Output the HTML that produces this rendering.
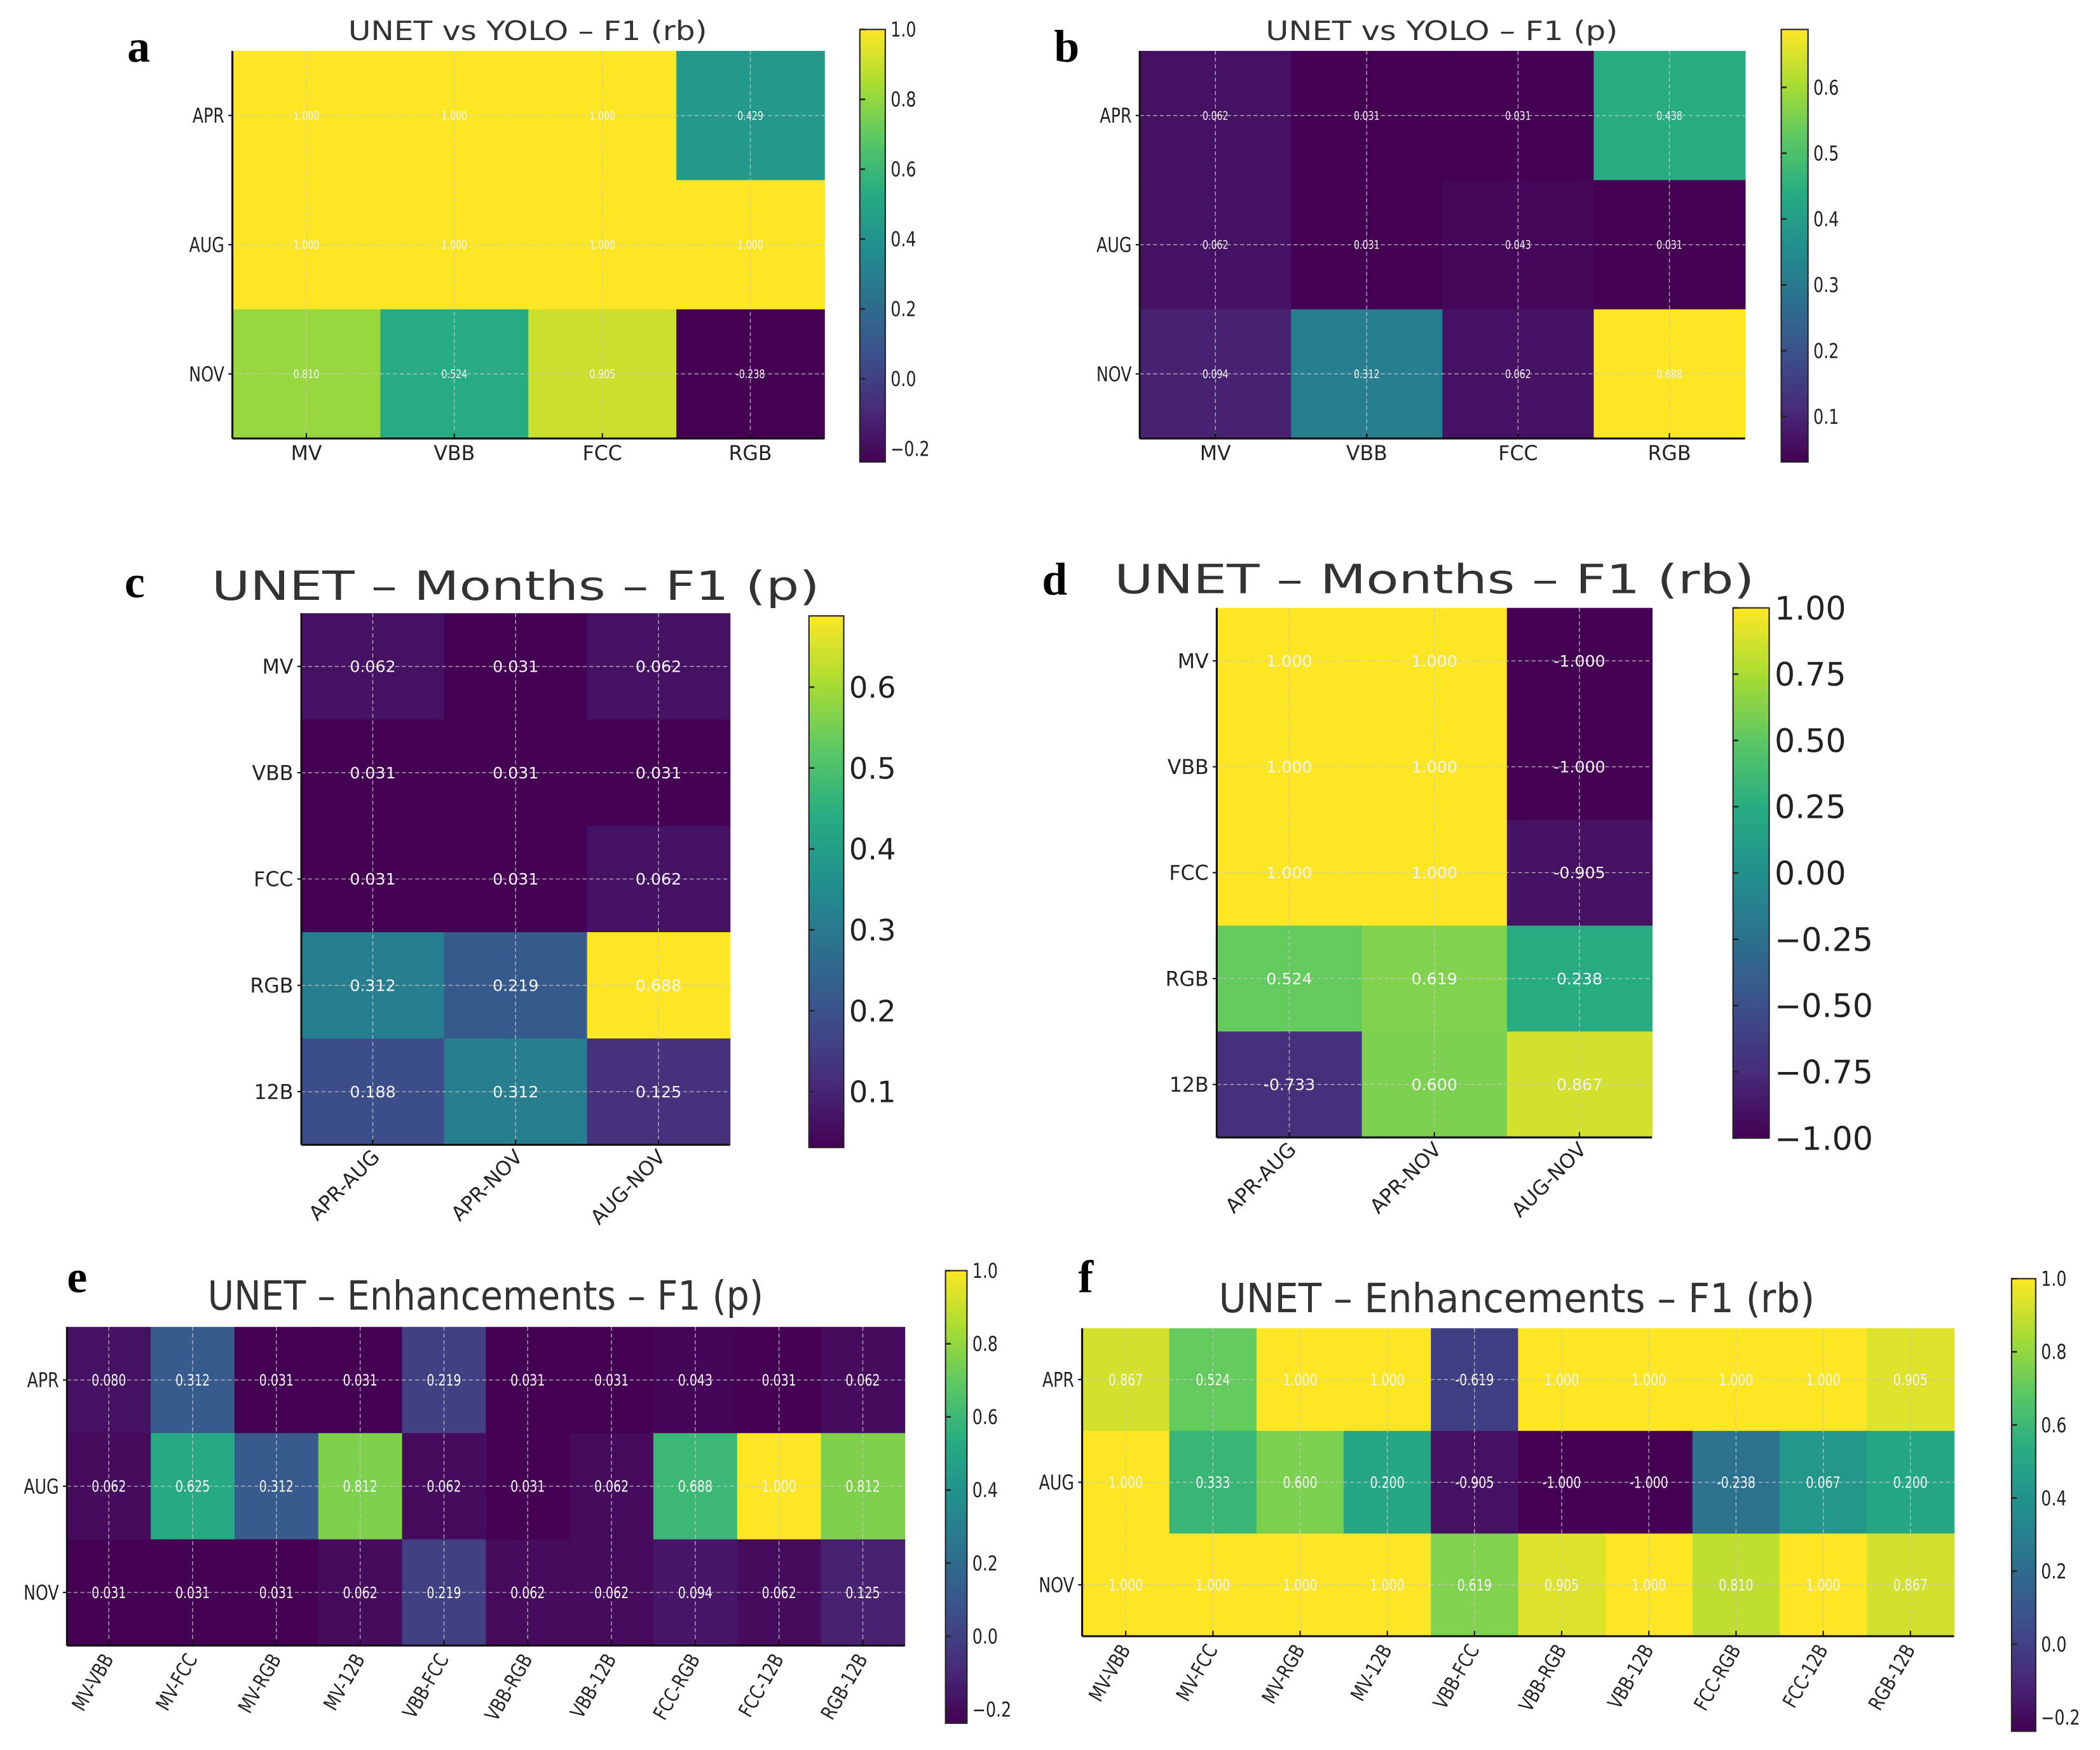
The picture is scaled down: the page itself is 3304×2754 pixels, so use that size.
<!DOCTYPE html>
<html><head><meta charset="utf-8">
<style>
html,body{margin:0;padding:0;background:#fff;overflow:hidden;width:3304px;height:2754px;}
svg{display:block;}
text{font-family:"DejaVu Sans","Liberation Sans",sans-serif;}
</style></head>
<body>
<svg id="fig" width="3304" height="2754" viewBox="0 0 1568 1307" xmlns="http://www.w3.org/2000/svg"></svg>
<script>
// ---------- data ----------
const monthRows = ["APR","AUG","NOV"];
const bandCols = ["MV","VBB","FCC","RGB"];
const aValues = [[1.000,1.000,1.000,0.429],[1.000,1.000,1.000,1.000],[0.810,0.524,0.905,-0.238]];
const bValues = [[0.062,0.031,0.031,0.438],[0.062,0.031,0.043,0.031],[0.094,0.312,0.062,0.688]];
const bandRows = ["MV","VBB","FCC","RGB","12B"];
const pairCols = ["APR-AUG","APR-NOV","AUG-NOV"];
const cValues = [[0.062,0.031,0.062],[0.031,0.031,0.031],[0.031,0.031,0.062],[0.312,0.219,0.688],[0.188,0.312,0.125]];
const dValues = [[1.000,1.000,-1.000],[1.000,1.000,-1.000],[1.000,1.000,-0.905],[0.524,0.619,0.238],[-0.733,0.600,0.867]];
const enhCols = ["MV-VBB","MV-FCC","MV-RGB","MV-12B","VBB-FCC","VBB-RGB","VBB-12B","FCC-RGB","FCC-12B","RGB-12B"];
const eValues = [[0.080,0.312,0.031,0.031,0.219,0.031,0.031,0.043,0.031,0.062],
                 [0.062,0.625,0.312,0.812,0.062,0.031,0.062,0.688,1.000,0.812],
                 [0.031,0.031,0.031,0.062,0.219,0.062,0.062,0.094,0.062,0.125]];
const fValues = [[0.867,0.524,1.000,1.000,-0.619,1.000,1.000,1.000,1.000,0.905],
                 [1.000,0.333,0.600,0.200,-0.905,-1.000,-1.000,-0.238,0.067,0.200],
                 [1.000,1.000,1.000,1.000,0.619,0.905,1.000,0.810,1.000,0.867]];
const ticksA = [-0.2,0.0,0.2,0.4,0.6,0.8,1.0];
const ticksB = [0.1,0.2,0.3,0.4,0.5,0.6];
const ticksD = [-1.0,-0.75,-0.5,-0.25,0.0,0.25,0.5,0.75,1.0];

// ---------- helpers ----------
const NS="http://www.w3.org/2000/svg";
const svg=document.getElementById('fig');
const VIR=["#440154","#472c7a","#3b518b","#2c718e","#21908d","#27ad81","#5cc863","#aadc32","#fde725"];
function hex(h){return [parseInt(h.substr(1,2),16),parseInt(h.substr(3,2),16),parseInt(h.substr(5,2),16)];}
function viridis(t){t=Math.max(0,Math.min(1,t));const p=t*(VIR.length-1);const i=Math.min(VIR.length-2,Math.floor(p));const f=p-i;
 const a=hex(VIR[i]),b=hex(VIR[i+1]);return `rgb(${a.map((v,k)=>Math.round(v+(b[k]-v)*f)).join(',')})`;}
function mk(tag,attrs,parent){const e=document.createElementNS(NS,tag);for(const k in attrs)e.setAttribute(k,attrs[k]);(parent||svg).appendChild(e);return e;}
function txt(s,attrs,parent){const e=mk('text',attrs,parent);e.textContent=s;return e;}
let gid=0;
function fmtTick(v,dec){const s=Math.abs(v).toFixed(dec);return (v<0?'\u2212':'')+s;}

function panel(c){
 const g=mk('g',{});
 
 
 const nr=c.rows.length, nc=c.cols.length;
 const cw=(c.x1-c.x0)/nc, ch=(c.y1-c.y0)/nr;
 const xs=j=>c.x0+j*cw, ys=i=>c.y0+i*ch;
 const norm=v=>(v-c.vmin)/(c.vmax-c.vmin);
 for(let i=0;i<nr;i++)for(let j=0;j<nc;j++){
  const r=mk('rect',{x:xs(j),y:ys(i),width:cw+0.4,height:ch+0.4,fill:viridis(norm(c.vals[i][j]))},g);
  
  
 }
 for(let j=0;j<nc;j++){const l=mk('line',{x1:xs(j)+cw/2,x2:xs(j)+cw/2,y1:c.y0,y2:c.y1,stroke:'#c8c8c8','stroke-width':0.7,'stroke-dasharray':'3,2',opacity:0.8},g);
  }
 for(let i=0;i<nr;i++){const l=mk('line',{x1:c.x0,x2:c.x1,y1:ys(i)+ch/2,y2:ys(i)+ch/2,stroke:'#c8c8c8','stroke-width':0.7,'stroke-dasharray':'3,2',opacity:0.8},g);
  }
 for(let i=0;i<nr;i++)for(let j=0;j<nc;j++){
  const v=c.vals[i][j];
  const t=txt(v.toFixed(3),{x:xs(j)+cw/2,y:ys(i)+ch/2+c.vfs*0.35,'font-size':c.vfs,fill:'#f4f4f4','text-anchor':'middle'},g);
  if(c.cond)t.setAttribute('transform',`translate(${xs(j)+cw/2},0) scale(0.75,1) translate(${-(xs(j)+cw/2)},0)`);
  
 }
 mk('line',{x1:c.x0,x2:c.x0,y1:c.y0,y2:c.y1,stroke:'#111','stroke-width':1.5},g);
 mk('line',{x1:c.x0,x2:c.x1,y1:c.y1,y2:c.y1,stroke:'#111','stroke-width':1.5},g);
 for(let i=0;i<nr;i++){
  mk('line',{x1:c.x0-3,x2:c.x0,y1:ys(i)+ch/2,y2:ys(i)+ch/2,stroke:'#111','stroke-width':1},g);
  const t=txt(c.rows[i],{x:c.x0-6,y:ys(i)+ch/2+c.lfs*0.36,'font-size':c.lfs,fill:'#222','text-anchor':'end'},g);
  if(c.cond)t.setAttribute('transform',`translate(${c.x0-6},0) scale(0.8,1) translate(${-(c.x0-6)},0)`);
  
 }
 for(let j=0;j<nc;j++){
  const cx=xs(j)+cw/2;
  mk('line',{x1:cx,x2:cx,y1:c.y1-4,y2:c.y1,stroke:'#111','stroke-width':1},g);
  let t;
  if(c.rot){
   t=txt(c.cols[j],{x:0,y:0,'font-size':c.lfs,fill:'#222','text-anchor':'end',
     transform:`translate(${cx+c.rotdx},${c.y1+c.rotdy}) rotate(${-c.rot})`+(c.cond?' scale(0.8,1)':'')},g);
  } else {
   t=txt(c.cols[j],{x:cx,y:c.y1+16,'font-size':c.lfs,fill:'#222','text-anchor':'middle'},g);
  }
  
 }
 const tt=txt(c.title,{x:(c.tx0+c.tx1)/2,y:c.ty,'font-size':c.tfs,fill:'#333','text-anchor':'middle',textLength:c.tx1-c.tx0,lengthAdjust:'spacingAndGlyphs'},g);
 
 const lt=txt(c.id,{x:c.lx,y:c.ly,'font-size':34,'font-weight':'bold',fill:'#000',style:'font-family:"Liberation Serif",serif'},g);
 
 const id='grad'+(gid++);
 const defs=mk('defs',{},g);
 const lg=mk('linearGradient',{id:id,x1:0,y1:1,x2:0,y2:0},defs);
 VIR.forEach((col,k)=>mk('stop',{offset:k/(VIR.length-1),'stop-color':col},lg));
 const cb=mk('rect',{x:c.cbx0,y:c.cby0,width:c.cbx1-c.cbx0,height:c.cby1-c.cby0,fill:`url(#${id})`,stroke:'#222','stroke-width':1},g);
 
 const bmin=(c.cbmin!==undefined)?c.cbmin:c.vmin, bmax=(c.cbmax!==undefined)?c.cbmax:c.vmax;
 const cy=v=>c.cby1-(v-bmin)/(bmax-bmin)*(c.cby1-c.cby0);
 c.ticks.forEach(v=>{
  const y=cy(v);
  mk('line',{x1:c.cbx0,x2:c.cbx0+4,y1:y,y2:y,stroke:'#222','stroke-width':1.2},g);
  const t=txt(fmtTick(v,c.tdec),{x:c.cbx1+4,y:y+c.cfs*0.36,'font-size':c.cfs,fill:'#222'},g);
  if(c.cond)t.setAttribute('transform',`translate(${c.cbx1+4},0) scale(0.8,1) translate(${-(c.cbx1+4)},0)`);
  
 });
}

panel({id:'a',rows:monthRows,cols:bandCols,vals:aValues,vmin:-0.238,vmax:1.0,x0:173.5,x1:615.5,y0:38,y1:327.5,
 vfs:9,lfs:15,cond:true,title:'UNET vs YOLO \u2013 F1 (rb)',tx0:260,tx1:528,ty:30,tfs:20,lx:95,ly:46,
 cbx0:642,cbx1:661,cby0:22,cby1:345,ticks:ticksA,tdec:1,cfs:15});
panel({id:'b',rows:monthRows,cols:bandCols,vals:bValues,vmin:0.031,vmax:0.688,x0:851,x1:1303,y0:38,y1:327.5,
 vfs:9,lfs:15,cond:true,title:'UNET vs YOLO \u2013 F1 (p)',tx0:945,tx1:1208,ty:30,tfs:20,lx:787,ly:46,
 cbx0:1330,cbx1:1350,cby0:22,cby1:345,ticks:ticksB,tdec:1,cfs:15});
panel({id:'c',rows:bandRows,cols:pairCols,vals:cValues,vmin:0.031,vmax:0.688,x0:225,x1:545,y0:458,y1:855,
 vfs:12,lfs:15,cond:false,rot:45,rotdx:6,rotdy:10,title:'UNET \u2013 Months \u2013 F1 (p)',tx0:158,tx1:612,ty:448,tfs:30,lx:93,ly:446,
 cbx0:604,cbx1:630,cby0:460,cby1:857,ticks:ticksB,tdec:1,cfs:22});
panel({id:'d',rows:bandRows,cols:pairCols,vals:dValues,vmin:-1,vmax:1,x0:908.5,x1:1233.5,y0:454,y1:849.5,
 vfs:12,lfs:15,cond:false,rot:45,rotdx:6,rotdy:10,title:'UNET \u2013 Months \u2013 F1 (rb)',tx0:832,tx1:1310,ty:443,tfs:30,lx:778,ly:444,
 cbx0:1294,cbx1:1321,cby0:454,cby1:850,ticks:ticksD,tdec:2,cfs:24});
panel({id:'e',rows:monthRows,cols:enhCols,vals:eValues,vmin:0.031,vmax:1.0,x0:50,x1:675.5,y0:991,y1:1229,
 vfs:12,lfs:15,cond:true,rot:60,rotdx:4,rotdy:10,title:'UNET \u2013 Enhancements \u2013 F1 (p)',tx0:155,tx1:570,ty:978,tfs:30,lx:50,ly:965,
 cbx0:706,cbx1:722,cby0:949,cby1:1287,ticks:ticksA,tdec:1,cfs:15,cbmin:-0.238,cbmax:1.0});
panel({id:'f',rows:monthRows,cols:enhCols,vals:fValues,vmin:-1,vmax:1,x0:808,x1:1459,y0:992,y1:1222,
 vfs:12,lfs:15,cond:true,rot:60,rotdx:4,rotdy:10,title:'UNET \u2013 Enhancements \u2013 F1 (rb)',tx0:910,tx1:1355,ty:980,tfs:30,lx:805,ly:965,
 cbx0:1502,cbx1:1520,cby0:955,cby1:1293,ticks:ticksA,tdec:1,cfs:15,cbmin:-0.238,cbmax:1.0});
</script>
</body></html>
